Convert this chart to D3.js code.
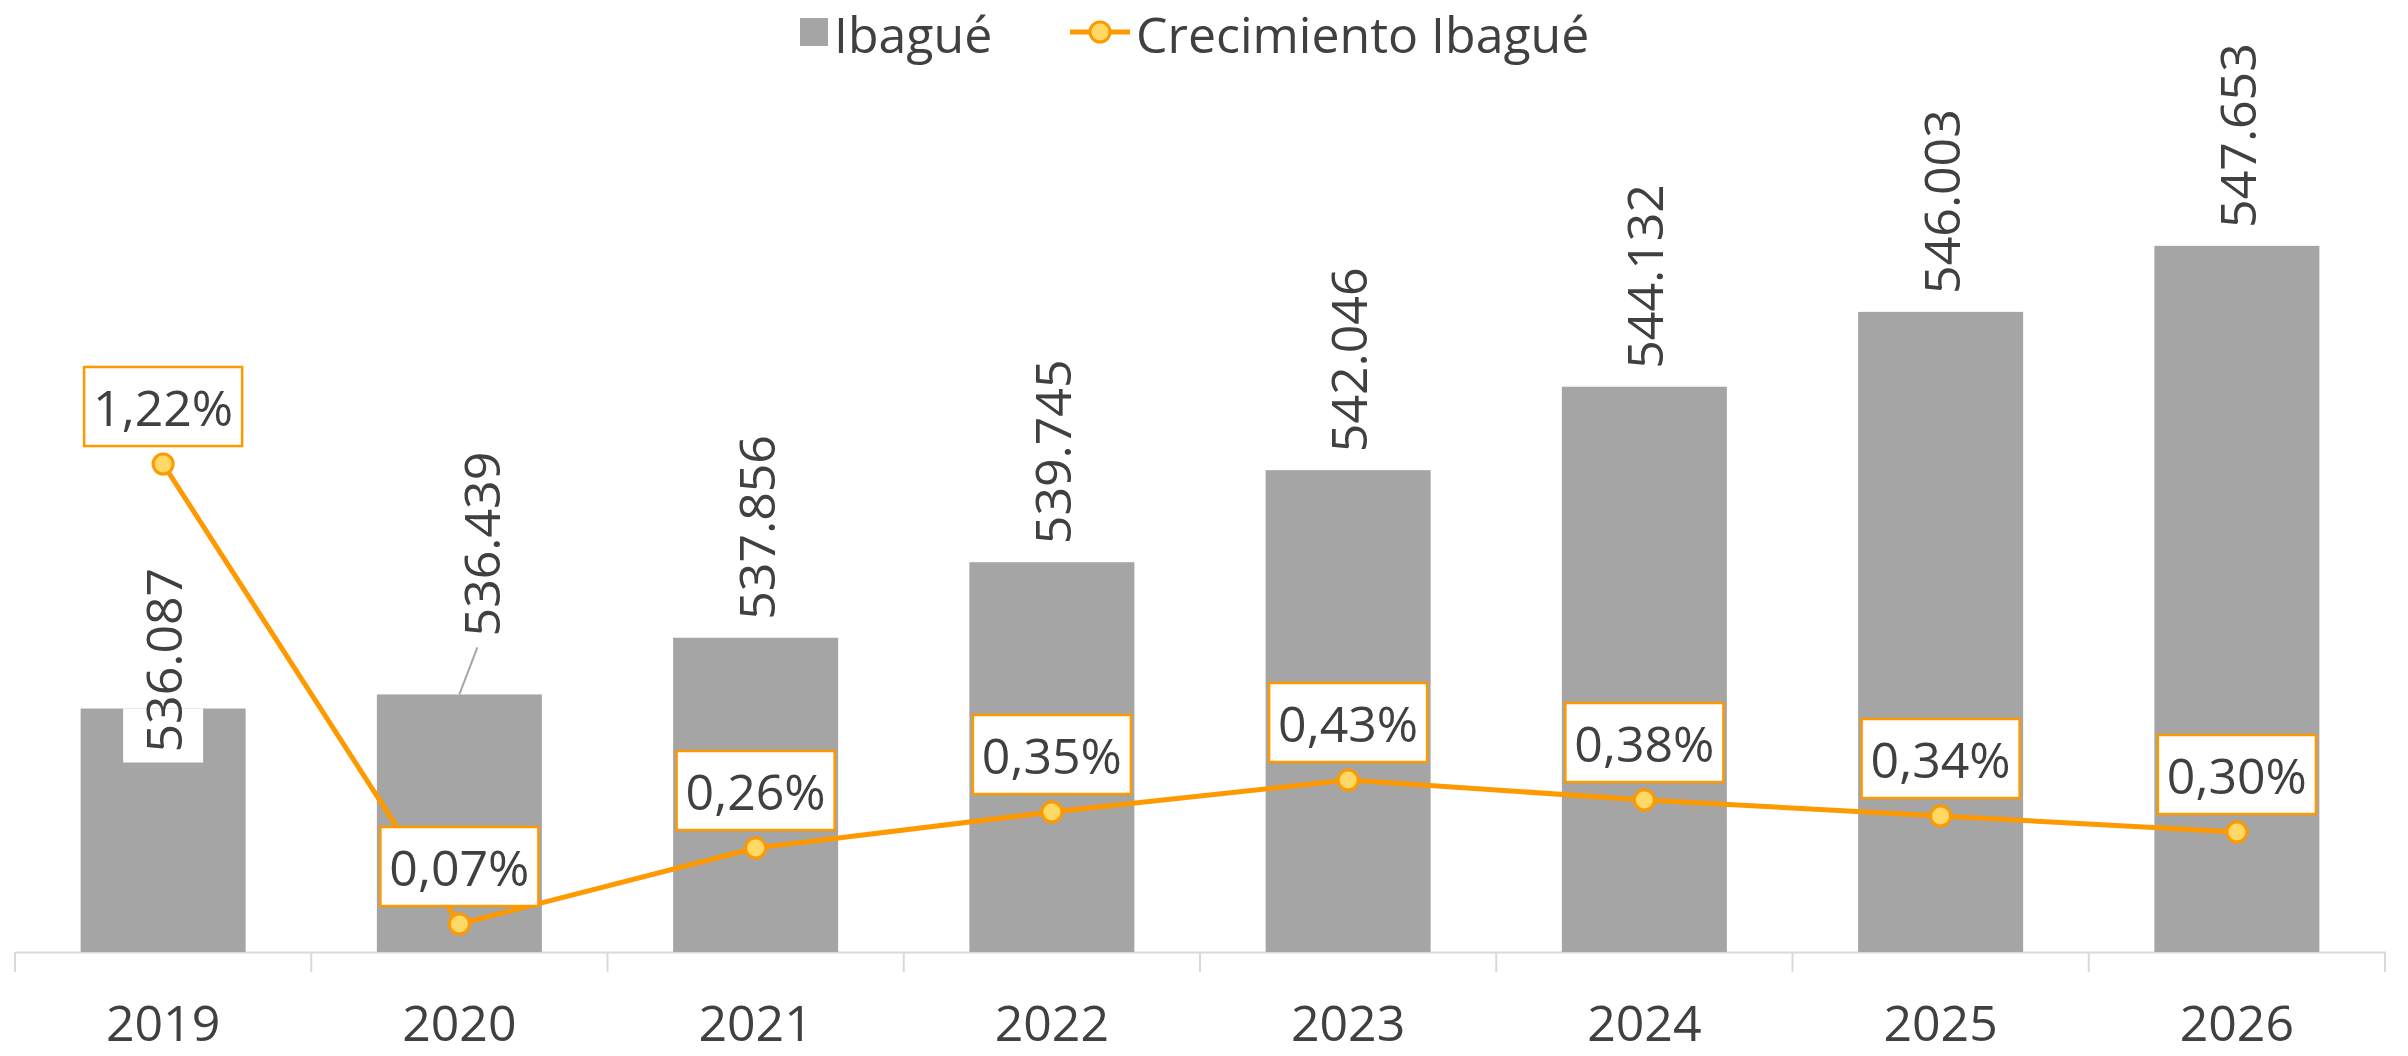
<!DOCTYPE html>
<html>
<head>
<meta charset="utf-8">
<script src="https://cdnjs.cloudflare.com/ajax/libs/d3/7.8.5/d3.min.js"></script>
<style>
  body { margin: 0; background: #fff; }
  text { font-family: "Segoe UI", "Open Sans", sans-serif; fill: #404040; }
</style>
</head>
<body>
<script>
var years = ['2019', '2020', '2021', '2022', '2023', '2024', '2025', '2026'];
var poblacion = [536087, 536439, 537856, 539745, 542046, 544132, 546003, 547653];
var crecimiento = [0.0122, 0.0007, 0.0026, 0.0035, 0.0043, 0.0038, 0.0034, 0.0030];
var seriesNames = ['Ibagué', 'Crecimiento Ibagué'];

var W = 2408, H = 1056;
var barColor = '#a5a5a5';
var lineColor = '#ff9900';
var markerFill = '#ffd966';

var loc = d3.formatLocale({decimal: ',', thousands: '.', grouping: [3], currency: ['', '']});
var fmtNum = loc.format(',');
var fmtPct = loc.format('.2%');

var svg = d3.select('body').append('svg')
    .attr('width', W)
    .attr('height', H);

var x = d3.scaleBand().domain(years).range([15, 2385]).padding(0);
var y = d3.scaleLinear().domain([530000, 550000]).range([952, 152]);
var y2 = d3.scaleLinear().domain([0, 0.02]).range([952, 152]);
var barW = x.bandwidth() * 0.557;
var cx = function(d, i) { return x(years[i]) + x.bandwidth() / 2; };

// axis
var axis = svg.append('g').attr('transform', 'translate(0,952)')
    .call(d3.axisBottom(x).tickSize(0).tickPadding(0));
axis.select('.domain').attr('stroke', '#d9d9d9').attr('stroke-width', 2);
axis.selectAll('.tick text').remove();
svg.append('g').selectAll('line').data(d3.range(years.length + 1)).join('line')
    .attr('x1', function(d) { return 15 + d * x.step(); })
    .attr('x2', function(d) { return 15 + d * x.step(); })
    .attr('y1', 952).attr('y2', 972)
    .attr('stroke', '#d9d9d9').attr('stroke-width', 2);
svg.append('g').selectAll('text').data(years).join('text')
    .attr('x', function(d) { return x(d) + x.bandwidth() / 2; })
    .attr('y', 1041)
    .attr('text-anchor', 'middle')
    .style('font-size', '50px')
    .text(function(d) { return d; });

// bars
svg.append('g').selectAll('rect').data(poblacion).join('rect')
    .attr('x', function(d, i) { return cx(d, i) - barW / 2; })
    .attr('y', function(d) { return y(d); })
    .attr('width', barW)
    .attr('height', function(d) { return 952 - y(d); })
    .attr('fill', barColor);

// bar labels (rotated); first one sits inside the bar, second is lifted with a leader line
var barLab = svg.append('g');
poblacion.forEach(function(d, i) {
    var px = cx(d, i), top = y(d), ly = top - 18, lx = px;
    if (i === 0) {
        ly = top + 44;
        barLab.append('rect').attr('x', px - 40).attr('y', top).attr('width', 80).attr('height', 54).attr('fill', '#fff');
    }
    if (i === 1) {
        ly = top - 58;
        lx = px + 22;
        barLab.append('line').attr('x1', px).attr('y1', top)
            .attr('x2', px + 18).attr('y2', top - 47)
            .attr('stroke', '#a5a5a5').attr('stroke-width', 2);
    }
    barLab.append('text')
        .attr('transform', 'translate(' + lx + ',' + ly + ') rotate(-90)')
        .attr('dominant-baseline', 'central')
        .style('font-size', '50px')
        .text(fmtNum(d));
});

// line
var line = d3.line()
    .x(function(d, i) { return cx(d, i); })
    .y(function(d) { return y2(d); });
svg.append('path').datum(crecimiento)
    .attr('d', line)
    .attr('fill', 'none')
    .attr('stroke', lineColor)
    .attr('stroke-width', 5)
    .attr('stroke-linejoin', 'round');
svg.append('g').selectAll('circle').data(crecimiento).join('circle')
    .attr('cx', function(d, i) { return cx(d, i); })
    .attr('cy', function(d) { return y2(d); })
    .attr('r', 10)
    .attr('fill', markerFill)
    .attr('stroke', lineColor)
    .attr('stroke-width', 3);

// percent labels
var pl = svg.append('g').selectAll('g').data(crecimiento).join('g')
    .attr('transform', function(d, i) { return 'translate(' + cx(d, i) + ',' + (y2(d) - 18) + ')'; });
pl.append('rect')
    .attr('x', -79).attr('y', -79).attr('width', 158).attr('height', 79)
    .attr('fill', '#fff').attr('stroke', lineColor).attr('stroke-width', 2.5);
pl.append('text')
    .attr('y', -39)
    .attr('text-anchor', 'middle')
    .attr('dominant-baseline', 'central')
    .style('font-size', '50px')
    .text(function(d) { return fmtPct(d); });

// legend
var lg = svg.append('g');
lg.append('rect').attr('x', 800).attr('y', 18).attr('width', 28).attr('height', 28).attr('fill', barColor);
lg.append('text').attr('x', 834).attr('y', 34).attr('dominant-baseline', 'central')
    .style('font-size', '50px').text(seriesNames[0]);
lg.append('line').attr('x1', 1070).attr('x2', 1130).attr('y1', 32).attr('y2', 32)
    .attr('stroke', lineColor).attr('stroke-width', 5);
lg.append('circle').attr('cx', 1100).attr('cy', 32).attr('r', 10)
    .attr('fill', markerFill).attr('stroke', lineColor).attr('stroke-width', 3);
lg.append('text').attr('x', 1136).attr('y', 34).attr('dominant-baseline', 'central')
    .style('font-size', '50px').text(seriesNames[1]);
</script>
</body>
</html>
